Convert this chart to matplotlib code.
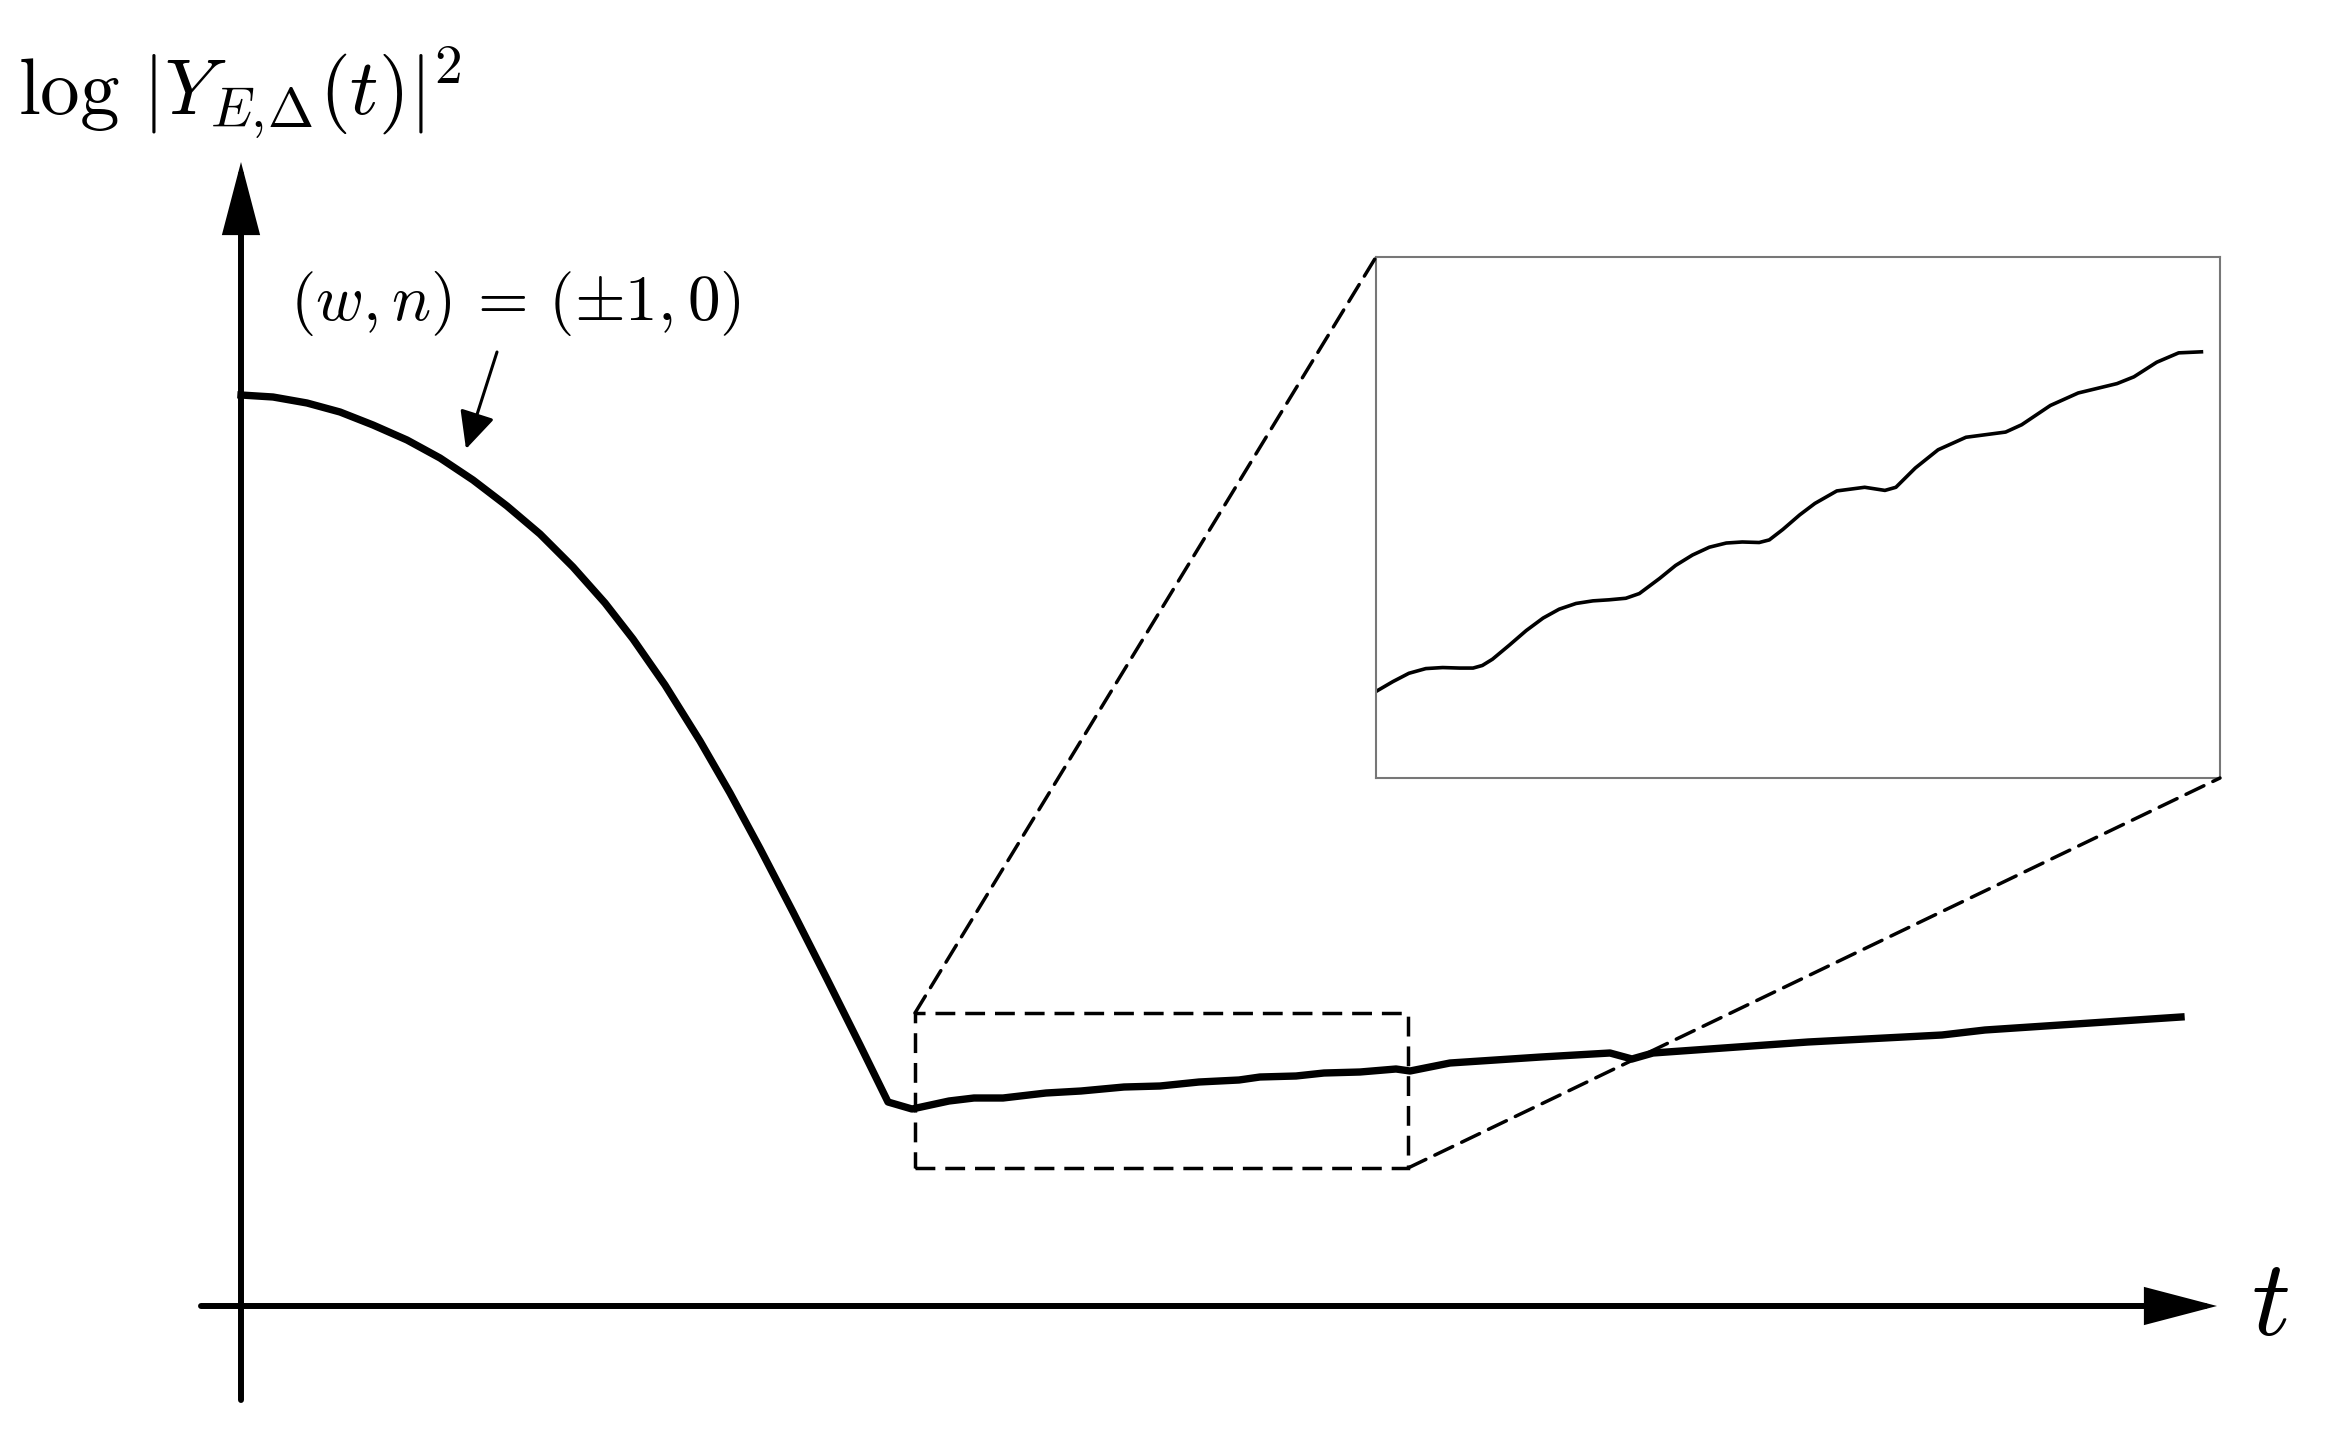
import matplotlib
matplotlib.use("Agg")
import matplotlib.pyplot as plt
from matplotlib.patches import Rectangle, ConnectionPatch

plt.rcParams['mathtext.fontset'] = 'cm'
plt.rcParams['font.family'] = ['DejaVu Sans']

# ---- data (arbitrary units) ----
# main curve: t and log|Y|^2
t_main = [0.00, 0.32, 0.66, 0.99, 1.32, 1.66, 1.99, 2.32, 2.66, 2.99, 3.32, 3.64,
          3.92, 4.24, 4.59, 4.89, 5.19, 5.52, 5.86, 6.19, 6.47, 6.71,
          7.08, 7.33, 7.62, 8.05, 8.40, 8.83, 9.19, 9.58, 9.98, 10.19, 10.55,
          10.83, 11.19, 11.55, 11.69, 12.09, 13.00, 13.69, 13.91, 14.12, 15.67,
          17.01, 17.44, 19.40]
y_main = [9.11, 9.09, 9.03, 8.94, 8.81, 8.66, 8.48, 8.26, 8.00, 7.72, 7.39, 7.03,
          6.67, 6.21, 5.65, 5.13, 4.575, 3.94, 3.27, 2.61, 2.04, 1.97,
          2.05, 2.08, 2.08, 2.13, 2.15, 2.19, 2.20, 2.24, 2.26, 2.29, 2.30,
          2.33, 2.34, 2.37, 2.35, 2.43, 2.49, 2.53, 2.47, 2.53, 2.64,
          2.71, 2.76, 2.89]

# zoom window (dashed box)
zoom_t = [6.74, 11.67]
zoom_y = [1.38, 2.93]

# inset curve (normalised units)
t_inset = [0.002, 0.020, 0.039, 0.059, 0.079, 0.099, 0.115, 0.126, 0.138, 0.158,
           0.178, 0.198, 0.217, 0.237, 0.257, 0.276, 0.296, 0.312, 0.336, 0.355,
           0.375, 0.395, 0.415, 0.434, 0.454, 0.466, 0.482, 0.502, 0.520,
           0.546, 0.579, 0.603, 0.616, 0.639, 0.666, 0.699, 0.746, 0.765, 0.799,
           0.832, 0.878, 0.898, 0.925, 0.951, 0.978]
y_inset = [0.168, 0.185, 0.201, 0.210, 0.212, 0.211, 0.211, 0.216, 0.228, 0.255,
           0.283, 0.307, 0.324, 0.335, 0.340, 0.342, 0.345, 0.354, 0.383, 0.408,
           0.428, 0.443, 0.451, 0.453, 0.452, 0.457, 0.477, 0.505, 0.527,
           0.551, 0.558, 0.552, 0.558, 0.595, 0.630, 0.654, 0.664, 0.678, 0.715,
           0.739, 0.757, 0.770, 0.798, 0.816, 0.818]

# axis extents
t_axis = [-0.40, 19.76]
y_axis = [-0.94, 11.44]

ylabel = r'$\log\,|Y_{E,\!\Delta}(t)|^2$'
xlabel = r'$t$'
note = r'$(w,n)\,=\,(\pm 1,0)$'
note_tip = (2.25, 8.57)
note_tail = (2.56, 9.54)

# ---- figure ----
fig = plt.figure(figsize=(23.32, 14.36), dpi=100)
ax = fig.add_axes([0, 0, 1, 1])
ax.set_xlim(-2.41, 20.91)
ax.set_ylim(-1.30, 13.06)
ax.axis('off')

axis_arrow = dict(arrowstyle='-|>,head_length=4.2,head_width=1.1', lw=4.3,
                  color='k', shrinkA=0, shrinkB=0, mutation_scale=10,
                  joinstyle='miter')
ax.annotate('', xy=(0, y_axis[1]), xytext=(0, y_axis[0]), arrowprops=axis_arrow)
ax.annotate('', xy=(t_axis[1], 0), xytext=(t_axis[0], 0), arrowprops=axis_arrow)

ax.plot(t_main, y_main, color='k', lw=5.3, solid_joinstyle='round', zorder=3)

dash_lw = 2.5
dash_style = (0, (20 / 3.5, 10 / 3.5))
rect = Rectangle((zoom_t[0], zoom_y[0]), zoom_t[1] - zoom_t[0], zoom_y[1] - zoom_y[0],
                 fill=False, ec='k', lw=dash_lw, linestyle=dash_style, zorder=2)
ax.add_patch(rect)

ax.annotate('', xy=note_tip, xytext=note_tail,
            arrowprops=dict(arrowstyle='-|>,head_length=2.3,head_width=1.1', lw=2.2,
                            color='k', shrinkA=0, shrinkB=0, mutation_scale=10))

fig.text(18 / 2332, 1 - 45 / 1436, ylabel, fontsize=57, ha='left', va='top')
fig.text(515 / 2332, 1 - 303 / 1436, note, fontsize=47, ha='center', va='center')
fig.text(2270 / 2332, 1 - 1305 / 1436, xlabel, fontsize=78, ha='center', va='center')

# ---- inset ----
axins = fig.add_axes([1376 / 2332, 1 - 778 / 1436, 844 / 2332, 521 / 1436])
axins.plot(t_inset, y_inset, color='k', lw=2.6, solid_joinstyle='round')
axins.set_xlim(0, 1)
axins.set_ylim(0, 1)
axins.set_xticks([])
axins.set_yticks([])
for s in axins.spines.values():
    s.set_color('#777777')
    s.set_linewidth(1.5)

for xyA, xyB in [((zoom_t[0], zoom_y[1]), (0, 1)), ((zoom_t[1], zoom_y[0]), (1, 0))]:
    con = ConnectionPatch(xyA=xyA, coordsA=ax.transData, xyB=xyB, coordsB=axins.transAxes,
                          color='k', lw=dash_lw, linestyle=dash_style, zorder=1)
    fig.add_artist(con)

fig.savefig('out.png', dpi=100)
